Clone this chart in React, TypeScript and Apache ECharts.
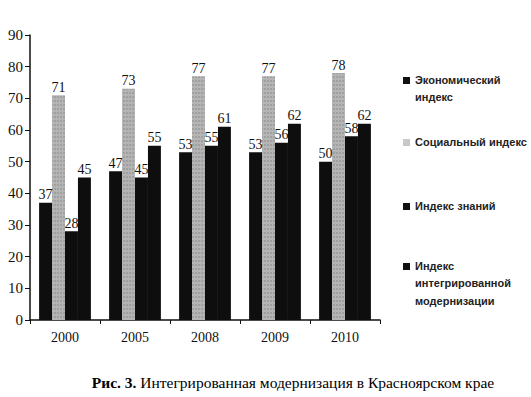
import React, { useEffect, useRef } from "react";
import * as echarts from "echarts";

const years = ["2000", "2005", "2008", "2009", "2010"];
const seriesNames = [
  "Экономический индекс",
  "Социальный индекс",
  "Индекс знаний",
  "Индекс интегрированной модернизации",
];
const economic = [37, 47, 53, 53, 50];
const social = [71, 73, 77, 77, 78];
const knowledge = [28, 45, 55, 56, 58];
const integrated = [45, 55, 61, 62, 62];
const legendLines = [
  ["Экономический", "индекс"],
  ["Социальный индекс"],
  ["Индекс знаний"],
  ["Индекс", "интегрированной", "модернизации"],
];
const legendTops = [81, 143, 207, 267];
const captionBold = "Рис. 3.";
const captionText = " Интегрированная модернизация в Красноярском крае";

const BLACK = "#0e0e0e";
const GREY = "#b4b4b4";
const colors = [BLACK, GREY, BLACK, BLACK];

export default function App() {
  const ref = useRef<HTMLDivElement>(null);
  useEffect(() => {
    if (!ref.current) return;
    const chart = echarts.init(ref.current, null, { renderer: "svg" });
    const allData = [economic, social, knowledge, integrated];
    const serif = "Liberation Serif";
    const series = allData.map((d, i) => ({
      name: seriesNames[i],
      type: "bar" as const,
      data: d,
      barGap: "0%",
      barCategoryGap: "26%",
      itemStyle: {
        color: colors[i],
        decal:
          i === 1
            ? {
                symbol: "rect",
                symbolSize: 0.7,
                color: "rgba(110,110,110,0.55)",
                dashArrayX: [2, 1],
                dashArrayY: [2, 2],
                rotation: 0,
              }
            : undefined,
      },
      label: {
        show: true,
        position: "top" as const,
        distance: 1,
        color: "#111",
        fontFamily: serif,
        fontSize: 14,
      },
    }));

    const graphic: any[] = [];
    legendLines.forEach((lines, i) => {
      const top = legendTops[i];
      graphic.push({
        type: "rect",
        left: 403,
        top: top - 4,
        shape: { width: 7, height: 7 },
        style: { fill: i === 1 ? "#c8c8c8" : "#111" },
      });
      lines.forEach((ln, j) => {
        graphic.push({
          type: "text",
          left: 415,
          top: top - 7 + j * 17.5,
          style: {
            text: ln,
            fill: "#222",
            font: "bold 11px Liberation Sans",
          },
        });
      });
    });
    graphic.push({
      type: "text",
      x: 293,
      y: 382,
      style: {
        text: `{b|${captionBold}}{n|${captionText}}`,
        align: "center",
        verticalAlign: "middle",
        rich: {
          b: { fontFamily: serif, fontSize: 15.5, fontWeight: "bold", fill: "#000" },
          n: { fontFamily: serif, fontSize: 15.5, fill: "#000" },
        },
      },
    });

    chart.setOption({
      animation: false,
      backgroundColor: "#fff",
      textStyle: { fontFamily: serif },
      grid: { left: 30, right: 151, top: 35, bottom: 77, containLabel: false },
      xAxis: {
        type: "category",
        data: years,
        axisLine: { lineStyle: { color: "#111", width: 1.5 } },
        axisTick: { show: true, length: 4, alignWithLabel: false, lineStyle: { color: "#111" } },
        axisLabel: { color: "#111", fontFamily: serif, fontSize: 14, margin: 10 },
      },
      yAxis: {
        type: "value",
        min: 0,
        max: 90,
        interval: 10,
        splitLine: { show: false },
        axisLine: { show: true, lineStyle: { color: "#111", width: 1.5 } },
        axisTick: { show: true, length: 5, lineStyle: { color: "#111" } },
        axisLabel: { color: "#111", fontFamily: serif, fontSize: 15, margin: 7 },
      },
      series,
      graphic,
    });
    return () => chart.dispose();
  }, []);
  return (
    <div
      ref={ref}
      style={{ position: "absolute", left: 0, top: 0, width: 531, height: 397 }}
    />
  );
}
